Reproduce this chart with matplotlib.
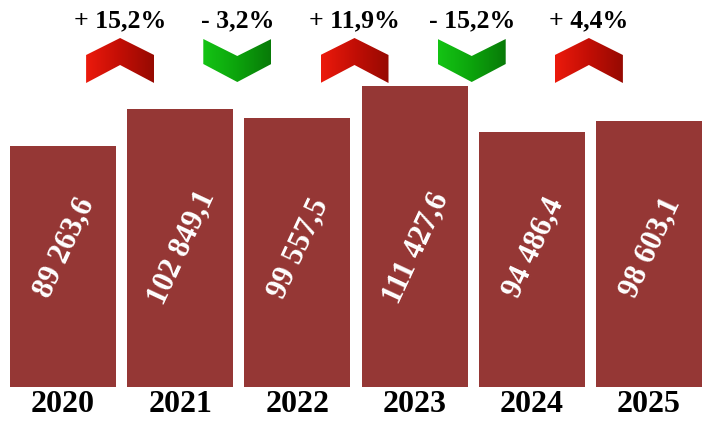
import numpy as np
import matplotlib
matplotlib.use("Agg")
import matplotlib.pyplot as plt
from matplotlib.patches import Polygon
from matplotlib.colors import LinearSegmentedColormap

years = ["2020", "2021", "2022", "2023", "2024", "2025"]
values = [89263.6, 102849.1, 99557.5, 111427.6, 94486.4, 98603.1]
value_labels = ["89 263,6", "102 849,1", "99 557,5", "111 427,6", "94 486,4", "98 603,1"]
change_labels = ["+ 15,2%", "- 3,2%", "+ 11,9%", "- 15,2%", "+ 4,4%"]
change_up = [True, False, True, False, True]

W, H, DPI = 707, 424, 100
fig = plt.figure(figsize=(W / DPI, H / DPI), dpi=DPI)
base_px = 387  # baseline from top
ax = fig.add_axes([0, (H - base_px) / H, 1, base_px / H])
px_per_unit = 117.2
px_per_val = 241 / 89263.6
x0 = -63 / px_per_unit
ax.set_xlim(x0, x0 + W / px_per_unit)
ax.set_ylim(0, base_px / px_per_val)
ax.axis("off")

serif = "Liberation Serif"
x = np.arange(len(years))
ax.bar(x, values, width=106 / px_per_unit, color="#953735", zorder=2)

for i, (v, lab) in enumerate(zip(values, value_labels)):
    ax.text(i + 1.5 / px_per_unit, (base_px - 248) / px_per_val, lab, rotation=65,
            rotation_mode="anchor", ha="center", va="center", color="white",
            fontsize=22, fontweight="bold", family=serif, zorder=3)

for i, y in enumerate(years):
    fig.text((63 + i * px_per_unit) / W, 1 - 405 / H, y, ha="center", va="center",
             fontsize=23, fontweight="bold", family=serif)

def py(p):  # pixel from top -> data value
    return (base_px - p) / px_per_val

up_shape = [(-34, 55), (0, 38), (34, 55), (34, 83), (0, 65), (-34, 83)]
down_shape = [(-34, 39), (0, 56), (34, 39), (34, 64), (0, 82), (-34, 64)]
red_cmap = LinearSegmentedColormap.from_list("r", ["#ec1a0c", "#c20e05", "#960a02"])
green_cmap = LinearSegmentedColormap.from_list("g", ["#14c414", "#0ca30c", "#087a08"])

for k, (lab, up) in enumerate(zip(change_labels, change_up)):
    cx = k + 0.5 - 1.5 / px_per_unit
    shape = up_shape if up else down_shape
    pts = [(cx + dx / px_per_unit, py(dy)) for dx, dy in shape]
    poly = Polygon(pts, closed=True, facecolor="none", edgecolor="none")
    ax.add_patch(poly)
    xs = [p[0] for p in pts]
    ys = [p[1] for p in pts]
    grad = np.linspace(0, 1, 256).reshape(1, -1)
    im = ax.imshow(grad, cmap=red_cmap if up else green_cmap, aspect="auto",
                   extent=[min(xs), max(xs), min(ys), max(ys)], zorder=3,
                   interpolation="bilinear")
    im.set_clip_path(poly)
    ax.text(cx, py(21), lab, ha="center", va="center", fontsize=18.5,
            fontweight="bold", family=serif, zorder=4)

ax.set_xlim(x0, x0 + W / px_per_unit)
ax.set_ylim(0, base_px / px_per_val)
fig.savefig("out.png", dpi=DPI)
